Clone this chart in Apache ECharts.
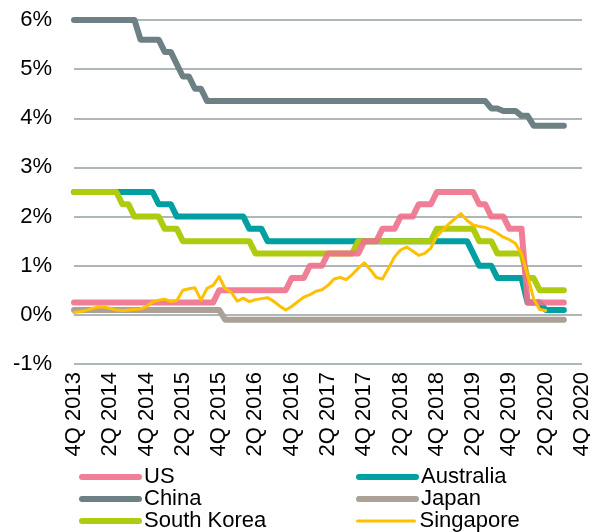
<!DOCTYPE html>
<html>
<head>
<meta charset="UTF-8">
<title>Policy rates</title>
<script src="https://cdn.jsdelivr.net/npm/echarts@6/dist/echarts.min.js"></script>
<style>html,body{margin:0;padding:0;background:#fff;}</style>
</head>
<body>
<div id="main" style="width:590px;height:532px;"></div>
<script>
// monthly, Dec 2013 .. Sep 2020 (axis runs on to Dec 2020)
var tickLabels = ['4Q 2013', '2Q 2014', '4Q 2014', '2Q 2015', '4Q 2015', '2Q 2016', '4Q 2016', '2Q 2017',
                  '4Q 2017', '2Q 2018', '4Q 2018', '2Q 2019', '4Q 2019', '2Q 2020', '4Q 2020'];

var us = [
  0.25, 0.25, 0.25, 0.25, 0.25, 0.25, 0.25, 0.25, 0.25, 0.25, 0.25, 0.25,
  0.25, 0.25, 0.25, 0.25, 0.25, 0.25, 0.25, 0.25, 0.25, 0.25, 0.25, 0.25,
  0.5, 0.5, 0.5, 0.5, 0.5, 0.5, 0.5, 0.5, 0.5, 0.5, 0.5, 0.5,
  0.75, 0.75, 0.75, 1, 1, 1, 1.25, 1.25, 1.25, 1.25, 1.25, 1.25,
  1.5, 1.5, 1.5, 1.75, 1.75, 1.75, 2, 2, 2, 2.25, 2.25, 2.25,
  2.5, 2.5, 2.5, 2.5, 2.5, 2.5, 2.5, 2.25, 2.25, 2, 2, 2,
  1.75, 1.75, 1.75, 0.25, 0.25, 0.25, 0.25, 0.25, 0.25, 0.25
];
var australia = [
  2.5, 2.5, 2.5, 2.5, 2.5, 2.5, 2.5, 2.5, 2.5, 2.5, 2.5, 2.5,
  2.5, 2.5, 2.25, 2.25, 2.25, 2, 2, 2, 2, 2, 2, 2,
  2, 2, 2, 2, 2, 1.75, 1.75, 1.75, 1.5, 1.5, 1.5, 1.5,
  1.5, 1.5, 1.5, 1.5, 1.5, 1.5, 1.5, 1.5, 1.5, 1.5, 1.5, 1.5,
  1.5, 1.5, 1.5, 1.5, 1.5, 1.5, 1.5, 1.5, 1.5, 1.5, 1.5, 1.5,
  1.5, 1.5, 1.5, 1.5, 1.5, 1.5, 1.25, 1, 1, 1, 0.75, 0.75,
  0.75, 0.75, 0.75, 0.25, 0.25, 0.25, 0.1, 0.1, 0.1, 0.1
];
var china = [
  6, 6, 6, 6, 6, 6, 6, 6, 6, 6, 6, 5.6,
  5.6, 5.6, 5.6, 5.35, 5.35, 5.1, 4.85, 4.85, 4.6, 4.6, 4.35, 4.35,
  4.35, 4.35, 4.35, 4.35, 4.35, 4.35, 4.35, 4.35, 4.35, 4.35, 4.35, 4.35,
  4.35, 4.35, 4.35, 4.35, 4.35, 4.35, 4.35, 4.35, 4.35, 4.35, 4.35, 4.35,
  4.35, 4.35, 4.35, 4.35, 4.35, 4.35, 4.35, 4.35, 4.35, 4.35, 4.35, 4.35,
  4.35, 4.35, 4.35, 4.35, 4.35, 4.35, 4.35, 4.35, 4.35, 4.2, 4.2, 4.15,
  4.15, 4.15, 4.05, 4.05, 3.85, 3.85, 3.85, 3.85, 3.85, 3.85
];
var japan = [
  0.1, 0.1, 0.1, 0.1, 0.1, 0.1, 0.1, 0.1, 0.1, 0.1, 0.1, 0.1,
  0.1, 0.1, 0.1, 0.1, 0.1, 0.1, 0.1, 0.1, 0.1, 0.1, 0.1, 0.1,
  0.1, -0.1, -0.1, -0.1, -0.1, -0.1, -0.1, -0.1, -0.1, -0.1, -0.1, -0.1,
  -0.1, -0.1, -0.1, -0.1, -0.1, -0.1, -0.1, -0.1, -0.1, -0.1, -0.1, -0.1,
  -0.1, -0.1, -0.1, -0.1, -0.1, -0.1, -0.1, -0.1, -0.1, -0.1, -0.1, -0.1,
  -0.1, -0.1, -0.1, -0.1, -0.1, -0.1, -0.1, -0.1, -0.1, -0.1, -0.1, -0.1,
  -0.1, -0.1, -0.1, -0.1, -0.1, -0.1, -0.1, -0.1, -0.1, -0.1
];
var southKorea = [
  2.5, 2.5, 2.5, 2.5, 2.5, 2.5, 2.5, 2.5, 2.25, 2.25, 2, 2,
  2, 2, 2, 1.75, 1.75, 1.75, 1.5, 1.5, 1.5, 1.5, 1.5, 1.5,
  1.5, 1.5, 1.5, 1.5, 1.5, 1.5, 1.25, 1.25, 1.25, 1.25, 1.25, 1.25,
  1.25, 1.25, 1.25, 1.25, 1.25, 1.25, 1.25, 1.25, 1.25, 1.25, 1.25, 1.5,
  1.5, 1.5, 1.5, 1.5, 1.5, 1.5, 1.5, 1.5, 1.5, 1.5, 1.5, 1.5,
  1.75, 1.75, 1.75, 1.75, 1.75, 1.75, 1.75, 1.5, 1.5, 1.5, 1.25, 1.25,
  1.25, 1.25, 1.25, 0.75, 0.75, 0.5, 0.5, 0.5, 0.5, 0.5
];
var singapore = [
  0.05, 0.07, 0.09, 0.13, 0.16, 0.16, 0.13, 0.10, 0.09, 0.10, 0.11, 0.12,
  0.17, 0.26, 0.30, 0.32, 0.27, 0.29, 0.50, 0.53, 0.55, 0.30, 0.54, 0.60,
  0.78, 0.53, 0.46, 0.28, 0.34, 0.27, 0.31, 0.33, 0.35, 0.28, 0.18, 0.10,
  0.17, 0.27, 0.36, 0.41, 0.48, 0.51, 0.60, 0.73, 0.76, 0.72, 0.82, 0.95,
  1.06, 0.92, 0.76, 0.73, 0.95, 1.18, 1.32, 1.38, 1.30, 1.21, 1.25, 1.36,
  1.60, 1.73, 1.85, 1.96, 2.06, 1.92, 1.83, 1.80, 1.78, 1.73, 1.66, 1.58,
  1.53, 1.45, 1.25, 0.80, 0.33, 0.11, 0.09, null, null, null
];

// month keys Dec 2013 .. Dec 2020
var months = [];
for (var k = 0; k <= 84; k++) {
    var m = (11 + k) % 12 + 1;
    var y = 2013 + Math.floor((11 + k) / 12);
    months.push(y + '-' + (m < 10 ? '0' + m : m));
}

var font = 'Liberation Sans, Arial, sans-serif';

function lineSeries(name, data, color, width, z) {
    return {
        name: name,
        type: 'line',
        data: data,
        symbol: 'none',
        showSymbol: false,
        z: z,
        lineStyle: { color: color, width: width, cap: 'round', join: 'round' },
        itemStyle: { color: color }
    };
}

// one legend per entry so the two columns line up like the original
function legendAt(name, left, top, width) {
    return {
        left: left,
        top: top,
        itemWidth: 57,
        itemHeight: 14,
        selectedMode: false,
        data: [{
            name: name,
            lineStyle: { width: width, cap: 'round' },
            itemStyle: { opacity: 0, borderWidth: 0 }
        }],
        textStyle: { color: '#000', fontSize: 22, fontFamily: font, lineHeight: 22 }
    };
}

var myChart = echarts.init(document.getElementById('main'));
var option = {
    animation: false,
    backgroundColor: '#fff',
    grid: { left: 74, right: 8, top: 20, bottom: 168, containLabel: false, outerBoundsMode: 'none' },
    legend: [
        legendAt('US', 74, 461, 6),
        legendAt('China', 74, 483, 6),
        legendAt('South Korea', 74, 505, 6),
        legendAt('Australia', 351, 461, 6),
        legendAt('Japan', 351, 483, 6),
        legendAt('Singapore', 351, 505, 3)
    ],
    xAxis: {
        type: 'category',
        data: months,
        boundaryGap: false,
        axisLine: { show: false },
        axisTick: { show: false },
        axisLabel: {
            rotate: 90,
            interval: 5,
            margin: 8,
            color: '#000',
            fontSize: 22,
            fontFamily: font,
            formatter: function (v, i) { return tickLabels[i / 6] || ''; }
        }
    },
    yAxis: {
        type: 'value',
        min: -1,
        max: 6,
        interval: 1,
        axisLine: { show: false },
        axisTick: { show: false },
        splitLine: { lineStyle: { color: '#adb7b7', width: 2 } },
        axisLabel: { formatter: '{value}%', margin: 22, color: '#000', fontSize: 22, fontFamily: font }
    },
    series: [
        lineSeries('Japan', japan, '#aba197', 6, 2),
        lineSeries('China', china, '#6d8083', 6, 2),
        lineSeries('Australia', australia, '#009fa1', 6, 2),
        lineSeries('South Korea', southKorea, '#afcb0f', 6, 2),
        lineSeries('US', us, 'rgba(240,112,140,0.9)', 6, 2),
        lineSeries('Singapore', singapore, '#ffc000', 3, 3)
    ]
};
myChart.setOption(option);
</script>
</body>
</html>
